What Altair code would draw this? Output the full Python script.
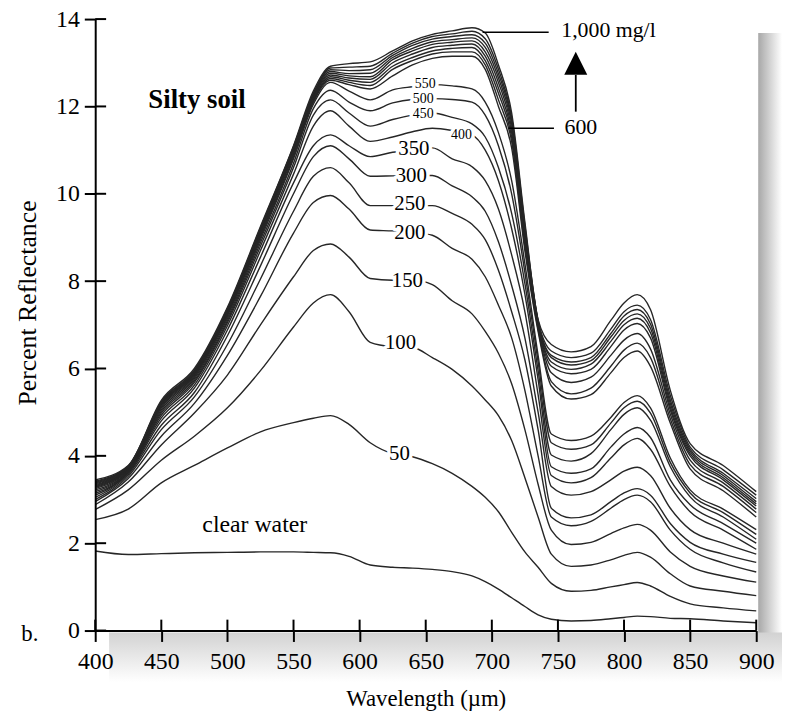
import altair as alt
import pandas as pd

# ---------------- data ----------------
wavelengths = [400, 425, 450, 475, 500, 525, 550, 565, 578, 592, 608, 625, 640, 655, 670, 685,
               695, 705, 715, 725, 735, 745, 760, 775, 790, 800, 810, 820, 835, 850, 875, 900]

concentrations = [0, 50, 100, 150, 200, 250, 300, 350, 400, 450, 500, 550,
                  600, 650, 700, 750, 800, 850, 900, 950, 1000]

c0 = [1.82, 1.74, 1.76, 1.78, 1.79, 1.8, 1.8, 1.79, 1.78, 1.7, 1.5, 1.45, 1.43, 1.4, 1.35, 1.25,
      1.12, 0.95, 0.75, 0.55, 0.36, 0.26, 0.22, 0.23, 0.27, 0.3, 0.33, 0.32, 0.28, 0.27, 0.22, 0.18]
c50 = [2.54, 2.78, 3.38, 3.78, 4.18, 4.55, 4.76, 4.86, 4.92, 4.72, 4.3, 4.05, 3.98, 3.82, 3.6, 3.3,
       3.05, 2.72, 2.25, 1.8, 1.45, 1.08, 0.9, 0.92, 1.0, 1.05, 1.1, 1.02, 0.78, 0.61, 0.52, 0.45]
c100 = [2.77, 3.22, 3.9, 4.45, 5.1, 5.95, 6.95, 7.5, 7.69, 7.3, 6.6, 6.5, 6.48, 6.25, 5.98, 5.6,
        5.28, 4.92, 4.35, 3.5, 2.6, 1.75, 1.47, 1.5, 1.62, 1.72, 1.79, 1.68, 1.3, 1.02, 0.9, 0.8]
c150 = [2.88, 3.4, 4.25, 4.98, 5.85, 7.0, 8.1, 8.7, 8.85, 8.55, 8.06, 8.02, 8.03, 7.92, 7.55, 7.25,
        6.85, 6.35, 5.65, 4.6, 3.35, 2.3, 1.97, 2.02, 2.22, 2.35, 2.43, 2.3, 1.8, 1.47, 1.25, 1.11]
c200 = [2.95, 3.48, 4.45, 5.2, 6.3, 7.65, 9.1, 9.8, 9.96, 9.65, 9.17, 9.15, 9.12, 9.05, 8.75, 8.5,
        8.1, 7.45, 6.7, 5.5, 4.0, 2.6, 2.4, 2.5, 2.8, 3.0, 3.1, 2.95, 2.3, 1.86, 1.55, 1.34]
c250 = [3.0, 3.53, 4.6, 5.35, 6.55, 8.05, 9.6, 10.4, 10.6, 10.25, 9.73, 9.73, 9.73, 9.73, 9.55, 9.3,
        8.95, 8.25, 7.3, 6.2, 4.6, 2.8, 2.58, 2.65, 2.95, 3.15, 3.25, 3.1, 2.45, 2.02, 1.75, 1.56]
c300 = [3.05, 3.57, 4.7, 5.45, 6.75, 8.35, 10.0, 10.85, 11.1, 10.8, 10.4, 10.41, 10.42, 10.42, 10.18, 9.93,
        9.6, 8.9, 7.9, 6.7, 5.0, 3.3, 3.1, 3.18, 3.45, 3.65, 3.74, 3.55, 2.8, 2.31, 2.0, 1.75]
c350 = [3.1, 3.6, 4.8, 5.55, 6.88, 8.55, 10.25, 11.1, 11.35, 11.1, 10.85, 10.95, 11.0, 11.05, 10.8, 10.62,
        10.3, 9.65, 8.6, 7.3, 5.4, 3.55, 3.38, 3.5, 3.95, 4.25, 4.4, 4.15, 3.3, 2.72, 2.3, 1.86]
c400 = [3.14, 3.62, 4.87, 5.62, 6.98, 8.7, 10.45, 11.55, 11.9, 11.55, 11.2, 11.3, 11.42, 11.5, 11.45, 11.35,
        11.0, 10.3, 9.2, 7.7, 5.75, 3.75, 3.6, 3.7, 4.2, 4.5, 4.65, 4.42, 3.45, 2.88, 2.45, 2.0]
c450 = [3.18, 3.64, 4.93, 5.68, 7.05, 8.8, 10.6, 11.8, 12.15, 11.85, 11.55, 11.7, 11.8, 11.85, 11.75, 11.6,
        11.3, 10.6, 9.55, 7.95, 5.95, 4.02, 3.88, 4.05, 4.6, 4.95, 5.1, 4.82, 3.75, 3.06, 2.6, 2.09]
c500 = [3.22, 3.66, 4.98, 5.72, 7.1, 8.88, 10.7, 11.95, 12.37, 12.1, 11.9, 12.08, 12.16, 12.18, 12.16, 12.1,
        11.8, 11.1, 10.0, 8.2, 6.15, 4.3, 4.15, 4.25, 4.75, 5.1, 5.25, 4.98, 3.85, 3.15, 2.7, 2.2]
c550 = [3.25, 3.68, 5.02, 5.76, 7.15, 8.95, 10.8, 12.05, 12.55, 12.35, 12.15, 12.38, 12.45, 12.5, 12.47, 12.4,
        12.1, 11.4, 10.3, 8.4, 6.3, 4.5, 4.35, 4.45, 4.88, 5.22, 5.38, 5.1, 3.95, 3.22, 2.78, 2.31]
c600 = [3.28, 3.7, 5.06, 5.8, 7.2, 9.0, 10.85, 12.1, 12.6, 12.5, 12.4, 12.7, 12.95, 13.1, 13.15, 13.15,
        12.85, 12.0, 11.05, 8.7, 6.85, 5.6, 5.3, 5.4, 5.9, 6.25, 6.4, 6.05, 4.75, 3.7, 3.2, 2.6]
c650 = [3.3, 3.71, 5.1, 5.83, 7.23, 9.04, 10.9, 12.13, 12.64, 12.55, 12.48, 12.85, 13.05, 13.2, 13.25, 13.25,
        12.95, 12.15, 11.2, 8.8, 6.9, 5.7, 5.42, 5.55, 6.05, 6.42, 6.58, 6.25, 4.85, 3.8, 3.3, 2.7]
c700 = [3.32, 3.72, 5.13, 5.86, 7.26, 9.08, 10.94, 12.16, 12.68, 12.6, 12.55, 12.92, 13.12, 13.27, 13.33, 13.35,
        13.05, 12.3, 11.3, 8.9, 6.95, 5.9, 5.68, 5.8, 6.3, 6.65, 6.8, 6.45, 4.95, 3.9, 3.38, 2.78]
c750 = [3.34, 3.73, 5.16, 5.88, 7.29, 9.11, 10.97, 12.19, 12.72, 12.65, 12.62, 13.0, 13.2, 13.35, 13.4, 13.43,
        13.15, 12.42, 11.4, 9.0, 7.0, 6.05, 5.88, 5.98, 6.5, 6.88, 7.03, 6.7, 5.05, 4.0, 3.45, 2.85]
c800 = [3.36, 3.74, 5.18, 5.9, 7.31, 9.14, 11.0, 12.22, 12.76, 12.7, 12.68, 13.07, 13.27, 13.42, 13.47, 13.5,
        13.25, 12.55, 11.5, 9.1, 7.03, 6.15, 5.98, 6.1, 6.62, 7.0, 7.15, 6.82, 5.12, 4.05, 3.5, 2.9]
c850 = [3.38, 3.75, 5.2, 5.92, 7.33, 9.17, 11.03, 12.25, 12.8, 12.75, 12.76, 13.12, 13.33, 13.48, 13.53, 13.57,
        13.35, 12.65, 11.6, 9.15, 7.06, 6.25, 6.08, 6.18, 6.72, 7.1, 7.25, 6.92, 5.2, 4.1, 3.55, 2.95]
c900 = [3.4, 3.76, 5.22, 5.94, 7.35, 9.2, 11.06, 12.28, 12.84, 12.82, 12.84, 13.17, 13.4, 13.54, 13.6, 13.64,
        13.45, 12.75, 11.68, 9.2, 7.08, 6.3, 6.15, 6.25, 6.8, 7.2, 7.35, 7.02, 5.28, 4.15, 3.6, 3.02]
c950 = [3.42, 3.77, 5.24, 5.96, 7.37, 9.22, 11.08, 12.3, 12.88, 12.9, 12.92, 13.22, 13.45, 13.6, 13.66, 13.72,
        13.55, 12.85, 11.75, 9.28, 7.1, 6.4, 6.25, 6.35, 6.9, 7.3, 7.45, 7.12, 5.38, 4.2, 3.68, 3.1]
c1000 = [3.45, 3.78, 5.27, 6.0, 7.4, 9.25, 11.1, 12.35, 12.92, 12.98, 13.02, 13.27, 13.5, 13.65, 13.73, 13.8,
         13.68, 12.95, 11.85, 9.35, 7.12, 6.55, 6.38, 6.5, 7.1, 7.5, 7.69, 7.35, 5.5, 4.28, 3.78, 3.18]

curves = [c0, c50, c100, c150, c200, c250, c300, c350, c400, c450, c500, c550,
          c600, c650, c700, c750, c800, c850, c900, c950, c1000]

x_ticks = [400, 450, 500, 550, 600, 650, 700, 750, 800, 850, 900]
y_ticks = [0, 2, 4, 6, 8, 10, 12, 14]

# curve labels (text, x, baseline y, font size)
label_text = ["50", "100", "150", "200", "250", "300", "350", "400", "450", "500", "550"]
label_x = [630.1, 630.9, 636.1, 638.0, 638.0, 639.1, 641.0, 677.0, 648.1, 648.1, 649.6]
label_y = [3.9, 6.44, 7.87, 8.96, 9.62, 10.26, 10.89, 11.25, 11.73, 12.09, 12.43]
label_size = [21, 21, 21, 21, 21, 21, 21, 14, 14, 14, 14]

# leader lines for "1,000 mg/l" and "600"
leader_x1 = [693.0, 712.6]
leader_x2 = [743.0, 747.0]
leader_y = [13.7, 11.5]
side_text = ["1,000 mg/l", "600"]
side_x = [752.5, 755.0]
side_y = [13.6, 11.38]

arrow_x = [763.5]
arrow_y1 = [11.88]
arrow_y2 = [12.72]
arrow_head_y = [12.99]

# ---------------- build ----------------
rows = []
for conc, vals in zip(concentrations, curves):
    for w, v in zip(wavelengths, vals):
        rows.append({"conc": conc, "wl": w, "refl": v})
df = pd.DataFrame(rows)

W, H = 667, 617
FONT = "Liberation Serif"
xs = alt.Scale(domain=[400, 900], nice=False, zero=False)
ys = alt.Scale(domain=[0, 14], nice=False, zero=True)
AX = alt.Axis(values=x_ticks, title="Wavelength (µm)", labelPadding=8, labelFontSize=24,
              titlePadding=15, labelFlush=False, titleFontSize=23, zindex=2)
AY = alt.Axis(values=y_ticks, title="Percent Reflectance", labelPadding=5, labelFontSize=24,
              titleAngle=270, titleX=-68, titleY=286, titleAlign="center",
              titleBaseline="middle", titleFontSize=26, zindex=2)


def X(field):
    return alt.X(field, scale=xs, axis=AX)


def Y(field):
    return alt.Y(field, scale=ys, axis=AY)


one = pd.DataFrame({"k": [0]})

shadow_right = alt.Chart(one).mark_rect(
    fill=alt.Gradient(gradient="linear", x1=0, x2=1, y1=0, y2=0,
                      stops=[alt.GradientStop(color="#a8a8a8", offset=0),
                             alt.GradientStop(color="#ffffff", offset=1)])
).encode(x=alt.value(W + 2), x2=alt.value(W + 26), y=alt.value(14), y2=alt.value(H + 6))

shadow_bottom = alt.Chart(one).mark_rect(
    fill=alt.Gradient(gradient="linear", x1=0, x2=0, y1=0, y2=1,
                      stops=[alt.GradientStop(color="#d2d2d2", offset=0),
                             alt.GradientStop(color="#ffffff", offset=1)])
).encode(x=alt.value(14), x2=alt.value(W + 26), y=alt.value(H + 2), y2=alt.value(H + 52))

lines = alt.Chart(df).mark_line(color="#262626", strokeWidth=1.4, interpolate="monotone").encode(
    x=X("wl:Q"), y=Y("refl:Q"), detail="conc:N",
)

lab_df = pd.DataFrame({"t": label_text, "x": label_x, "y": label_y, "fs": label_size})
halo = alt.Chart(lab_df).mark_text(font=FONT, align="center", baseline="alphabetic",
                                   stroke="white", strokeWidth=7, strokeJoin="round",
                                   color="white").encode(
    x=X("x:Q"), y=Y("y:Q"), text="t:N", size=alt.Size("fs:Q", scale=None, legend=None))
labels = alt.Chart(lab_df).mark_text(font=FONT, align="center", baseline="alphabetic",
                                     color="black").encode(
    x=X("x:Q"), y=Y("y:Q"), text="t:N", size=alt.Size("fs:Q", scale=None, legend=None))

lead_df = pd.DataFrame({"x1": leader_x1, "x2": leader_x2, "y": leader_y})
leaders = alt.Chart(lead_df).mark_rule(color="black", strokeWidth=1.6).encode(
    x=X("x1:Q"), x2="x2:Q", y=Y("y:Q"))

side_df = pd.DataFrame({"t": side_text, "x": side_x, "y": side_y})
side = alt.Chart(side_df).mark_text(font=FONT, fontSize=22, align="left",
                                    baseline="alphabetic", color="black").encode(
    x=X("x:Q"), y=Y("y:Q"), text="t:N")

arr_df = pd.DataFrame({"x": arrow_x, "y1": arrow_y1, "y2": arrow_y2, "yh": arrow_head_y})
shaft = alt.Chart(arr_df).mark_rule(color="black", strokeWidth=1.8).encode(
    x=X("x:Q"), y=Y("y1:Q"), y2="y2:Q")
head = alt.Chart(arr_df).mark_point(shape="M0,-1L1,1L-1,1Z", filled=True, color="black",
                                    opacity=1, size=540).encode(
    x=X("x:Q"), y=Y("yh:Q"))

xt_df = pd.DataFrame({"xt": x_ticks})
xin = alt.Chart(xt_df).mark_rule(color="black", strokeWidth=2).encode(
    x=X("xt:Q"), y=alt.value(H), y2=alt.value(H - 11))
yt_df = pd.DataFrame({"yt": y_ticks})
yin = alt.Chart(yt_df).mark_rule(color="black", strokeWidth=2).encode(
    y=Y("yt:Q"), x=alt.value(0), x2=alt.value(11))

title_df = pd.DataFrame({"t": ["Silty soil"], "x": [477.0], "y": [11.96]})
silty = alt.Chart(title_df).mark_text(font=FONT, fontSize=27, fontWeight="bold", align="center",
                                      baseline="alphabetic", color="black").encode(
    x=X("x:Q"), y=Y("y:Q"), text="t:N")

cw_df = pd.DataFrame({"t": ["clear water"], "x": [520.7], "y": [2.25]})
clear = alt.Chart(cw_df).mark_text(font=FONT, fontSize=24, align="center",
                                   baseline="alphabetic", color="black").encode(
    x=X("x:Q"), y=Y("y:Q"), text="t:N")

b_label = alt.Chart(one).mark_text(font=FONT, fontSize=23, align="center", baseline="middle",
                                   color="black", text="b.").encode(
    x=alt.value(-66), y=alt.value(H + 4))

chart = alt.layer(
    shadow_right, shadow_bottom, lines, halo, labels, leaders, side, shaft, head,
    xin, yin, silty, clear, b_label
).properties(
    width=W, height=H,
    autosize=alt.AutoSizeParams(type="none"),
    padding={"left": 88, "top": 8, "right": 26, "bottom": 78},
).configure_axis(
    domainColor="black", domainWidth=2, tickColor="black", tickWidth=2, tickSize=11,
    labelFont=FONT, labelColor="black",
    titleFont=FONT, titleColor="black", titleFontWeight="normal",
    grid=False,
).configure_view(stroke="transparent")

chart.save("out.html", embed_options={"renderer": "svg", "actions": False})
